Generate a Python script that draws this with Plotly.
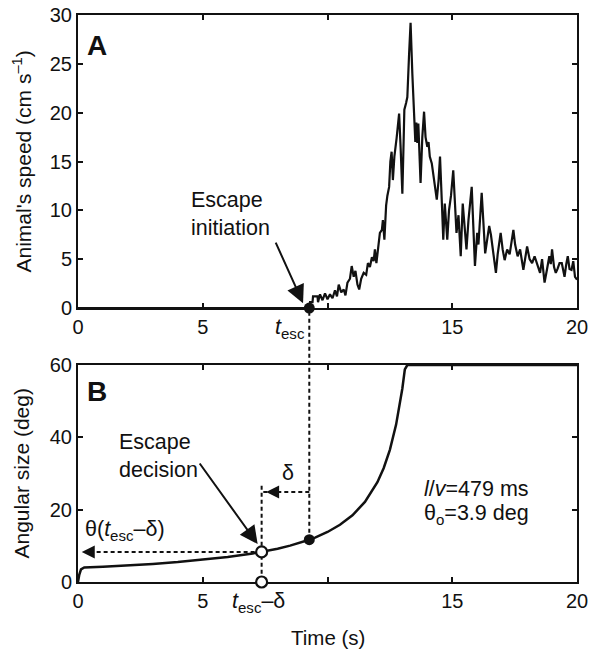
import plotly.graph_objects as go

# ---------------- data ----------------
speed_t = [0, 9.27, 9.3, 9.4, 9.42, 9.6, 9.62, 9.7, 9.8, 9.9, 10.0, 10.1, 10.2, 10.3, 10.38, 10.45,
           10.55, 10.65, 10.72, 10.8, 10.9, 10.97, 11.05, 11.12, 11.2, 11.27, 11.35, 11.45, 11.55,
           11.62, 11.7, 11.78, 11.85, 11.9, 11.96, 12.05, 12.1, 12.18, 12.22, 12.28, 12.35, 12.4,
           12.47, 12.52, 12.57, 12.62, 12.68, 12.77, 12.83, 12.87, 12.93, 13.0, 13.05, 13.08, 13.15,
           13.2, 13.27, 13.33, 13.4, 13.47, 13.52, 13.56, 13.6, 13.64, 13.73, 13.8, 13.87, 13.93,
           14.0, 14.05, 14.1, 14.18, 14.3, 14.38, 14.45, 14.51, 14.58, 14.64, 14.7, 14.75, 14.8,
           14.87, 14.95, 15.04, 15.1, 15.17, 15.25, 15.34, 15.42, 15.5, 15.57, 15.65, 15.78, 15.85,
           15.91, 16.0, 16.05, 16.18, 16.25, 16.32, 16.4, 16.48, 16.55, 16.65, 16.75, 16.82, 16.94,
           17.02, 17.1, 17.2, 17.3, 17.45, 17.52, 17.62, 17.72, 17.85, 17.95, 18.0, 18.1, 18.2,
           18.3, 18.4, 18.52, 18.6, 18.7, 18.8, 18.89, 18.95, 19.0, 19.08, 19.15, 19.22, 19.3,
           19.39, 19.45, 19.5, 19.57, 19.63, 19.7, 19.78, 19.85, 19.92, 20.0]
speed_v = [0, 0, 0.6, 0.6, 1.2, 1.2, 0.6, 1.4, 0.8, 1.5, 0.9, 1.4, 1.0, 1.8, 1.2, 2.4,
           1.6, 1.9, 1.3, 2.6, 3.0, 4.3, 3.2, 3.8, 2.4, 1.9, 3.0, 3.6, 3.4,
           4.6, 4.2, 5.2, 4.8, 6.0, 4.6, 6.8, 7.7, 8.0, 9.0, 7.0, 10.5, 11.5,
           12.4, 15.0, 16.0, 13.1, 15.5, 17.4, 19.5, 19.9, 16.5, 11.7, 17.0, 20.3, 21.0,
           21.6, 26.0, 29.2, 24.0, 19.9, 17.0, 19.0, 16.9, 18.9, 12.8, 17.5, 20.1, 17.5,
           16.5, 17.0, 15.5, 14.8, 12.8, 11.1, 13.0, 15.5, 11.0, 7.0, 10.7, 9.0, 7.0,
           10.0, 11.5, 14.1, 11.0, 7.7, 9.5, 5.3, 10.7, 8.0, 6.0, 9.0, 12.4, 8.0,
           4.3, 7.7, 6.5, 11.8, 9.0, 5.6, 7.0, 8.4, 7.5, 5.6, 3.6, 5.5, 7.7,
           6.0, 4.9, 6.0, 5.5, 8.0, 6.5, 5.3, 6.0, 3.9, 5.5, 6.3, 5.0, 4.6,
           5.3, 4.5, 3.6, 5.0, 2.6, 4.0, 5.3, 4.5, 6.0, 4.2, 3.6, 4.0, 4.6,
           4.6, 3.8, 3.2, 4.5, 5.3, 4.0, 3.9, 4.8, 3.2, 2.9]

angle_t = [0, 0.05, 0.12, 0.25, 1, 2, 3, 4, 5, 6, 7, 7.36, 8, 8.5, 9, 9.27, 9.5, 10, 10.5,
           11, 11.5, 12, 12.25, 12.5, 12.75, 12.9, 13.0, 13.1, 13.2, 20]
angle_v = [0, 2.0, 3.5, 4.0, 4.24, 4.59, 5.01, 5.51, 6.13, 6.90, 7.89, 8.32, 9.21, 10.05, 11.06,
           11.69, 12.29, 13.83, 15.81, 18.45, 22.13, 27.6, 31.47, 36.56, 43.52, 49.0, 53.5, 58.8,
           60, 60]

t_esc = 9.27
delta = 1.91
theta_dec = 8.32
theta_esc = 11.69
delta_arrow_y = 24.9
delta_line_top = 26.6

x_ticks = [0, 5, 10, 15, 20]
x_ticktext = ["0", "5", "", "15", "20"]
y1_ticks = [0, 5, 10, 15, 20, 25, 30]
y2_ticks = [0, 20, 40, 60]

FONT = "Liberation Sans, Arial, sans-serif"
BLACK = "#111111"
TXT = 21.5

# ---------------- geometry (paper fractions) ----------------
top_dom = [0.4832, 1.0]
bot_dom = [0.0, 0.3827]

fig = go.Figure()

fig.add_trace(go.Scatter(x=speed_t, y=speed_v, mode="lines", xaxis="x", yaxis="y",
                         line=dict(color=BLACK, width=2.2), showlegend=False))
fig.add_trace(go.Scatter(x=angle_t, y=angle_v, mode="lines", xaxis="x2", yaxis="y2",
                         line=dict(color=BLACK, width=2.5), showlegend=False))

t_dec = t_esc - delta
dash = dict(color=BLACK, width=2, dash="4px,3px")
fig.add_trace(go.Scatter(x=[t_esc, t_dec], y=[delta_arrow_y, delta_arrow_y], mode="lines",
                         xaxis="x2", yaxis="y2", line=dash, showlegend=False))
fig.add_trace(go.Scatter(x=[t_dec, t_dec], y=[delta_line_top, 0], mode="lines",
                         xaxis="x2", yaxis="y2", line=dash, showlegend=False))
fig.add_trace(go.Scatter(x=[t_dec, 0.3], y=[theta_dec, theta_dec], mode="lines",
                         xaxis="x2", yaxis="y2", line=dash, showlegend=False))

y_bot_paper = bot_dom[0] + theta_esc / 60.0 * (bot_dom[1] - bot_dom[0])
y_top_paper = top_dom[0] + 0 / 30.0 * (top_dom[1] - top_dom[0])
fig.add_shape(type="line", xref="x", yref="paper", x0=t_esc, x1=t_esc,
              y0=y_bot_paper, y1=y_top_paper, line=dash, layer="below")

fig.add_trace(go.Scatter(x=[t_esc], y=[0], mode="markers", xaxis="x", yaxis="y", cliponaxis=False,
                         marker=dict(color=BLACK, size=11), showlegend=False))
fig.add_trace(go.Scatter(x=[t_esc], y=[theta_esc], mode="markers", xaxis="x2", yaxis="y2",
                         cliponaxis=False, marker=dict(color=BLACK, size=11), showlegend=False))
fig.add_trace(go.Scatter(x=[t_dec, t_dec], y=[theta_dec, 0], mode="markers", xaxis="x2", yaxis="y2",
                         cliponaxis=False,
                         marker=dict(color="white", size=11, line=dict(color=BLACK, width=2.2)),
                         showlegend=False))

axis_common = dict(showline=True, linecolor=BLACK, linewidth=2, mirror="ticks", ticks="inside",
                   ticklen=5, tickwidth=1.5, tickcolor=BLACK, showgrid=False, zeroline=False,
                   automargin=False,
                   tickfont=dict(family=FONT, size=20, color=BLACK), layer="below traces")

fig.update_layout(
    width=589, height=649,
    margin=dict(l=78, r=12, t=15, b=67),
    paper_bgcolor="white", plot_bgcolor="white",
    font=dict(family=FONT, size=TXT, color=BLACK),
    xaxis=dict(domain=[0, 1], anchor="y", range=[0, 20], tickvals=x_ticks, ticktext=x_ticktext,
               **axis_common),
    yaxis=dict(domain=top_dom, anchor="x", range=[0, 30], tickvals=y1_ticks, **axis_common),
    xaxis2=dict(domain=[0, 1], anchor="y2", range=[0, 20], tickvals=x_ticks, ticktext=x_ticktext,
                **axis_common),
    yaxis2=dict(domain=bot_dom, anchor="x2", range=[0, 60], tickvals=y2_ticks, **axis_common),
)

ann = []
ann.append(dict(text="Animal's speed (cm s<sup>–1</sup>)", xref="paper", yref="paper", x=0,
                y=(top_dom[0] + top_dom[1]) / 2, xanchor="center", yanchor="middle", xshift=-56,
                textangle=-90, showarrow=False, font=dict(size=21)))
ann.append(dict(text="Angular size (deg)", xref="paper", yref="paper", x=0,
                y=(bot_dom[0] + bot_dom[1]) / 2, xanchor="center", yanchor="middle", xshift=-56,
                textangle=-90, showarrow=False, font=dict(size=21)))
ann.append(dict(text="Time (s)", xref="paper", yref="paper", x=0.5, y=0, xanchor="center",
                yanchor="middle", yshift=-55, showarrow=False, font=dict(size=20.5)))
ann.append(dict(text="<b>A</b>", xref="x", yref="y", x=0.3, y=26.9, xanchor="left",
                yanchor="middle", showarrow=False, font=dict(size=28)))
ann.append(dict(text="<b>B</b>", xref="x2", yref="y2", x=0.3, y=52.8, xanchor="left",
                yanchor="middle", showarrow=False, font=dict(size=28)))
ann.append(dict(text="Escape<br>initiation", xref="x", yref="y", x=4.45, y=9.6, xanchor="left",
                yanchor="middle", align="left", showarrow=False, font=dict(size=TXT)))
ann.append(dict(text="", xref="x", yref="y", x=9.02, y=0.5, ax=-28, ay=-62, showarrow=True,
                arrowhead=2, arrowsize=1.8, arrowwidth=2, arrowcolor=BLACK))
ann.append(dict(text="<i>t</i><sub>esc</sub>", xref="x", yref="paper", x=t_esc, y=top_dom[0],
                xanchor="right", yanchor="top", xshift=-2, yshift=-5, showarrow=False,
                font=dict(size=TXT)))
ann.append(dict(text="Escape<br>decision", xref="x2", yref="y2", x=1.55, y=34.8, xanchor="left",
                yanchor="middle", align="left", showarrow=False, font=dict(size=TXT)))
ann.append(dict(text="", xref="x2", yref="y2", x=7.2, y=10.5, ax=-59, ay=-82, showarrow=True,
                arrowhead=2, arrowsize=1.8, arrowwidth=2, arrowcolor=BLACK))
ann.append(dict(text="", xref="x2", yref="y2", x=t_dec + 0.18, y=delta_arrow_y, ax=9, ay=0,
                showarrow=True, arrowhead=2, arrowsize=1.3, arrowwidth=2, arrowcolor=BLACK))
ann.append(dict(text="δ", xref="x2", yref="y2", x=8.42, y=30.2, xanchor="center",
                yanchor="middle", showarrow=False, font=dict(size=TXT)))
ann.append(dict(text="", xref="x2", yref="y2", x=0.15, y=theta_dec, ax=9, ay=0,
                showarrow=True, arrowhead=2, arrowsize=1.3, arrowwidth=2, arrowcolor=BLACK))
ann.append(dict(text="θ(<i>t</i><sub>esc</sub>–δ)", xref="x2", yref="y2", x=0.2, y=14.3,
                xanchor="left", yanchor="middle", showarrow=False, font=dict(size=TXT)))
ann.append(dict(text="<i>t</i><sub>esc</sub>–δ", xref="x2", yref="paper", x=t_dec, y=0,
                xanchor="center", yanchor="top", xshift=-3, yshift=-5, showarrow=False,
                font=dict(size=TXT)))
ann.append(dict(text="<i>l</i>/<i>v</i>=479 ms", xref="x2", yref="y2", x=13.8, y=25.8,
                xanchor="left", yanchor="middle", showarrow=False, font=dict(size=TXT)))
ann.append(dict(text="θ<sub>o</sub>=3.9 deg", xref="x2", yref="y2", x=13.8, y=18.6,
                xanchor="left", yanchor="middle", showarrow=False, font=dict(size=TXT)))

fig.update_layout(annotations=ann)

fig.write_html("out.html")
